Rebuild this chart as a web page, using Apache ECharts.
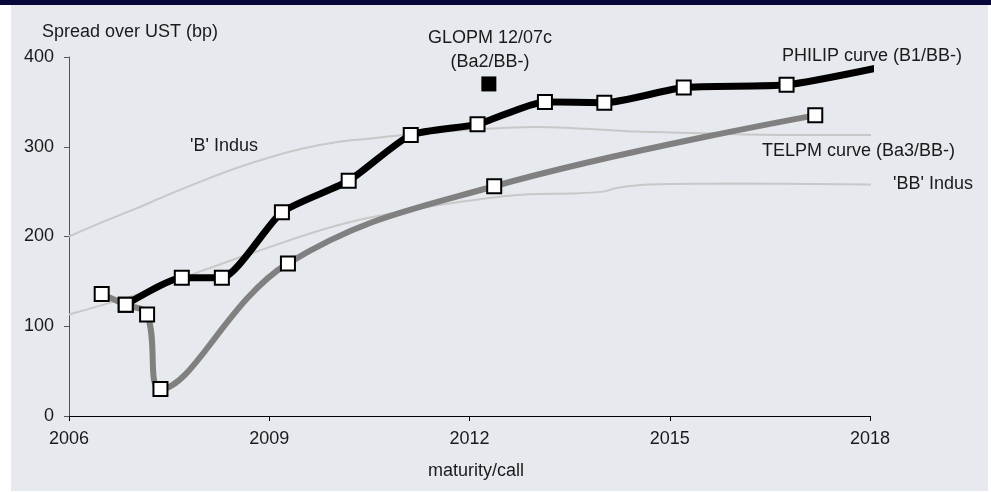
<!DOCTYPE html>
<html>
<head>
<meta charset="utf-8">
<script src="https://cdn.jsdelivr.net/npm/echarts@6/dist/echarts.min.js"></script>
<style>
html,body{margin:0;padding:0;background:#ffffff;}
#chart{width:991px;height:492px;}
</style>
</head>
<body>
<div id="chart"></div>
<script>
// ---- data ----
const xTicks = [2006, 2009, 2012, 2015, 2018];
const yTicks = [0, 100, 200, 300, 400];

const philipCurve = [
  [2006.85,124],[2007.69,154],[2008.29,154],[2009.19,227],[2010.19,262],
  [2011.12,313],[2012.12,325],[2013.13,350],[2014.02,349],[2015.21,366],
  [2016.75,369],[2018.12,388]
];
const telpmCurve = [
  [2006.49,136],[2006.85,124],[2007.17,113],[2007.37,30],[2009.28,170],
  [2012.37,256],[2017.18,335]
];
const glopm = [[2012.29,370]];

const bIndus = [
  [2006.0,200],[2006.5,216],[2007.0,231],[2007.5,247],[2008.0,262],[2008.5,276],
  [2009.0,288],[2009.5,298],[2010.0,305],[2010.5,309],[2011.0,313],[2011.5,316],
  [2012.0,319],[2012.5,321],[2013.0,322],[2013.5,321],[2014.0,319],[2014.5,317],
  [2015.0,316],[2016.0,314],[2017.0,313],[2018.12,313]
];
const bbIndus = [
  [2006.0,113],[2007.0,135],[2007.56,150],[2008.0,162],[2008.8,183],[2010.0,212],
  [2011.0,228],[2012.0,240],[2012.9,247],[2013.5,248],[2014.0,250],[2014.2,254],
  [2014.7,258],[2016.0,259],[2018.12,258]
];

// ---- chart ----
const FONT = 'Liberation Sans, Arial, Helvetica, sans-serif';
const TXT = '#1a1a1a';
const chart = echarts.init(document.getElementById('chart'), null, {renderer:'canvas'});

const markerStyle = {color:'#ffffff', borderColor:'#000000', borderWidth:2, opacity:1};

function withLastNoSymbol(arr){
  return arr.map((p,i)=> i===arr.length-1 ? {value:p, symbol:'none'} : {value:p});
}

function txt(x,y,s,align){
  return {type:'text', x:x, y:y, z:50,
    style:{text:s, fill:TXT, font:'18px '+FONT, textAlign:align||'left', textVerticalAlign:'middle'}};
}

const option = {
  animation:false,
  backgroundColor:'#ffffff',
  textStyle:{fontFamily:FONT},
  graphic:[
    {type:'rect', shape:{x:11,y:5,width:977,height:486}, style:{fill:'#e6e9ee'}, z:-10, silent:true},
    {type:'rect', shape:{x:0,y:0,width:991,height:5}, style:{fill:'#07073a'}, z:-10, silent:true},
    txt(42,32,'Spread over UST (bp)'),
    txt(490,38,'GLOPM 12/07c','center'),
    txt(490,62,'(Ba2/BB-)','center'),
    txt(782,56,'PHILIP curve (B1/BB-)'),
    txt(190,146,"'B' Indus"),
    txt(762,151,'TELPM curve (Ba3/BB-)'),
    txt(893,184,"'BB' Indus"),
    txt(476,471,'maturity/call','center')
  ],
  grid:{left:69, right:121, top:57, bottom:76, containLabel:false},
  xAxis:{
    type:'value', min:xTicks[0], max:xTicks[xTicks.length-1], interval:3,
    axisLine:{show:true, lineStyle:{color:'#000000', width:1}},
    axisTick:{show:true, length:5, inside:false, lineStyle:{color:'#000000'}},
    axisLabel:{color:TXT, fontSize:18, fontFamily:FONT, margin:14, formatter:v=>String(v)},
    splitLine:{show:false}
  },
  yAxis:{
    type:'value', min:yTicks[0], max:yTicks[yTicks.length-1], interval:100,
    axisLine:{show:true, lineStyle:{color:'#555555', width:1}},
    axisTick:{show:true, length:5, lineStyle:{color:'#555555'}},
    axisLabel:{color:TXT, fontSize:18, fontFamily:FONT, margin:15},
    splitLine:{show:false}
  },
  series:[
    {name:"'B' Indus", type:'line', data:bIndus, smooth:0.4, showSymbol:false, symbol:'none', clip:false, z:1,
      lineStyle:{color:'#c8c8c8', width:2}},
    {name:"'BB' Indus", type:'line', data:bbIndus, smooth:0.4, showSymbol:false, symbol:'none', clip:false, z:1,
      lineStyle:{color:'#c8c8c8', width:2}},
    {name:'TELPM', type:'line', data:telpmCurve, smooth:0.4, symbol:'rect', symbolSize:14, clip:false, z:3,
      lineStyle:{color:'#808080', width:6}, itemStyle:markerStyle},
    {name:'PHILIP', type:'line', data:withLastNoSymbol(philipCurve), smooth:0.2, symbol:'rect', symbolSize:14, clip:false, z:4,
      lineStyle:{color:'#000000', width:7}, itemStyle:markerStyle},
    {name:'GLOPM', type:'scatter', data:glopm, symbol:'rect', symbolSize:15, clip:false, z:5,
      itemStyle:{color:'#000000', opacity:1}}
  ]
};
chart.setOption(option);
</script>
</body>
</html>
